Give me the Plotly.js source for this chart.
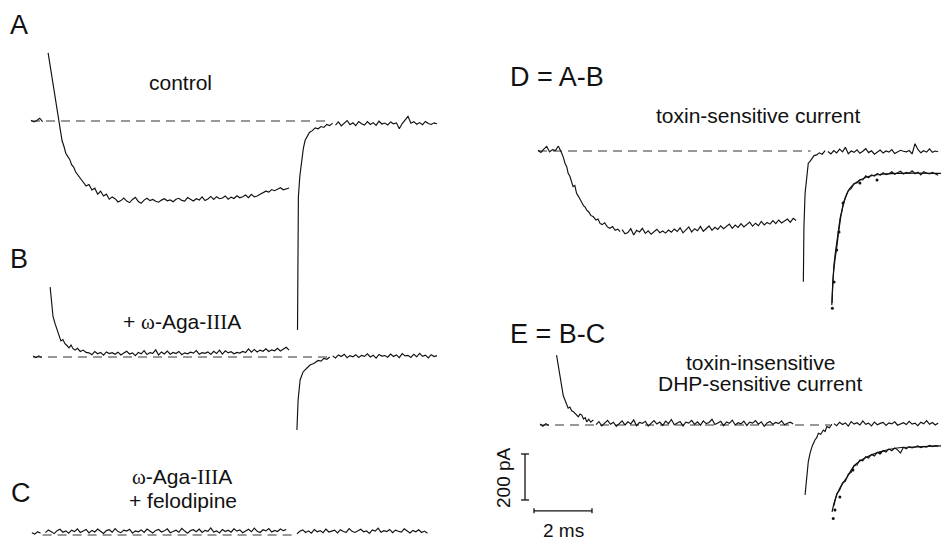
<!DOCTYPE html>
<html>
<head>
<meta charset="utf-8">
<script src="https://cdn.plot.ly/plotly-3.0.1.min.js"></script>
<style>html,body{margin:0;padding:0;background:#fff;}#chart{width:941px;height:540px;}</style>
</head>
<body>
<div id="chart"></div>
<script>
// ---------------- DATA (time in ms, current in pA) ----------------
// Panel A: control
const aPreY  = [3, -4, 2, 12, -3];                       // x0 0, dx 0.1
const aOnT   = [0.59,0.66,0.73,0.80,0.87,0.94,1.0,1.07,1.14,1.2,1.27,1.34,1.4,1.47,1.54,1.6,1.7,1.8,1.9,2.0,2.1,2.2,2.3,2.4,2.5,2.6,2.7,2.8,2.9];
const aOnY   = [296,240,185,130,75,25,-25,-85,-112,-140,-155,-168,-190,-200,-222,-232,-250,-262,-283,-276,-300,-292,-318,-305,-326,-318,-340,-330,-338];
const aPlatY = [-338,-352,-346,-335,-348,-355,-341,-332,-350,-358,-344,-336,-346,-341,-349,-353,-344,-338,-347,-343,-351,-340,-336,-345,-348,-333,-340,-348,-338,-344,-330,-346,-339,-328,-341,-329,-338,-335,-326,-340,-331,-337,-325,-334,-329,-322,-333,-319,-330,-326,-318,-312,-305,-309,-298,-303,-296,-290,-299,-294,-291]; // x0 2.9
const aTailT = [9.19,9.2,9.22,9.27,9.33,9.39,9.45,9.52,9.6,9.7,9.8,9.9,10.0,10.1,10.2,10.3,10.4];
const aTailY = [-909,-600,-330,-240,-170,-120,-85,-65,-50,-42,-30,-34,-24,-28,-15,-20,-9];
const aPostY = [-18,-4,-21,-10,2,-16,-8,-20,-2,-12,-18,-3,-15,-7,-19,-1,-13,-9,-17,-4,-12,-8,-34,-11,4,20,-10,-3,-14,-7,-16,-2,-11,-15,-8,-12]; // x0 10.5
const aBase  = [0, 10.3];

// Panel B: + ω-Aga-IIIA
const bPreY  = [4, -3, 5, -2];                            // x0 0.07
const bOnT   = [0.66,0.7,0.76,0.83,0.9,0.97,1.03,1.1,1.17,1.24,1.31,1.38,1.45,1.52,1.6,1.7,1.8,1.9,2.0];
const bOnY   = [304,250,175,145,115,85,70,76,58,50,40,52,36,30,38,24,30,20,18];
const bPlatY = [18,10,24,14,20,8,22,15,19,12,21,9,17,25,13,18,6,20,14,28,11,19,16,31,9,22,13,26,12,20,15,24,10,18,14,21,17,28,12,19,16,22,11,25,15,30,13,27,18,23,14,20,17,24,19,35,21,33,22,30,25,36,24,31,27,38,26,34,42,30]; // x0 2.0
const bTailT = [9.17,9.18,9.21,9.28,9.38,9.5,9.62,9.75,9.9,10.0,10.1,10.2,10.3];
const bTailY = [-317,-250,-187,-100,-65,-50,-35,-28,-15,-18,-6,-10,0];
const bPostY = [5,-4,9,2,12,-3,6,1,10,-2,7,3,14,0,8,-5,11,4,6,-1,13,2,9,-3,15,5,7,-2,12,1,16,3,8,-4,10,2,6]; // x0 10.4
const bBase  = [0.07, 10.3];

// Panel C: ω-Aga-IIIA + felodipine
const cPreY  = [10, 4, 14, 8];                            // x0 0.03
const cMainY = [10,22,14,6,19,25,12,18,8,21,15,27,11,17,24,9,20,13,26,16,7,19,23,12,28,15,10,21,17,25,8,18,14,22,11,26,16,9,20,24,13,18,27,10,15,21,12,29,17,8,19,23,14,26,11,20,16,31,13,18,9,24,15,21,12,27,17,22,10,19,25,14,30,16,11,23,18,28,13,20,15,26,19,24]; // x0 0.5
const cPostY = [5,16,22,11,18,8,24,14,19,10,26,13,17,21,9,23,15,12,28,16,11,20,25,14,18,7,22,17,30,12,19,15,24,10,21,16,13,27,18,9,20,14,23,11,17,8]; // x0 9.17
const cBase  = [0.4, 9.0];

// Panel D = A-B
const dPreY  = [3, -6, 8, 20, -4, 6, 2, 22];              // x0 0
const dOnT   = [0.70,0.76,0.82,0.88,0.93,0.99,1.04,1.1,1.16,1.21,1.27,1.33,1.39,1.45,1.51,1.57,1.63,1.68,1.75,1.82,1.91,2.0,2.07,2.14,2.21,2.3,2.39,2.48,2.57,2.66,2.75,2.83];
const dOnY   = [22,8,-10,-30,-53,-68,-97,-110,-140,-155,-150,-184,-196,-210,-227,-238,-245,-257,-265,-280,-286,-300,-296,-315,-320,-312,-330,-336,-328,-345,-340,-351];
const dPlatY = [-342,-360,-355,-338,-365,-345,-352,-336,-358,-347,-362,-352,-340,-355,-348,-357,-344,-353,-339,-350,-334,-356,-343,-330,-352,-338,-347,-328,-349,-336,-326,-345,-332,-341,-325,-338,-329,-318,-336,-322,-332,-316,-330,-320,-309,-327,-314,-325,-306,-321,-311,-318,-303,-316,-300,-313,-305,-296,-310,-293,-302]; // x0 2.9
const dTailT = [9.15,9.16,9.17,9.21,9.27,9.32,9.38,9.44,9.52,9.61,9.7,9.8,9.9];
const dTailY = [-568,-450,-329,-184,-97,-53,-45,-32,-20,-17,-8,-14,2];
const dPostY = [-2,-13,2,-8,8,-4,16,-12,0,-6,5,-10,-1,10,-7,1,-14,-3,4,-9,0,-5,6,-11,-2,3,-1,-4,2,-13,32,7,-8,1,-5,9,-6,0,-3]; // x0 10.0
const dBase  = [0, 9.4];
const dFitT  = [10.14,10.17,10.24,10.31,10.38,10.48,10.59,10.76,11.0,11.34,11.79,12.38,13.0,13.9];
const dFitY  = [-661,-561,-474,-410,-340,-257,-204,-161,-135,-113,-102,-97,-96,-97];
const dDataT = [10.13,10.16,10.2,10.25,10.3,10.36,10.42,10.48,10.54,10.6];
const dDataY = [-670,-575,-500,-445,-400,-330,-290,-262,-225,-205];
const dData2Y= [-205,-172,-164,-140,-139,-124,-126,-108,-116,-104,-109,-98,-106,-94,-103,-99,-90,-101,-95,-88,-100,-93,-97,-86,-99,-92,-104,-90,-96,-100,-93,-98,-105]; // x0 10.6
const dDotsT = [10.15,10.21,10.3,10.38,10.52,11.1,11.69];
const dDotsY = [-684,-570,-430,-352,-226,-139,-126];

// Panel E = B-C
const ePreY  = [4, -5, 6, -2];                            // x0 0.07
const eOnT   = [0.64,0.67,0.7,0.73,0.76,0.82,0.87,0.93,0.99,1.04,1.1,1.16,1.22,1.28,1.34,1.39,1.45,1.51,1.57,1.63,1.68,1.75,1.82,1.91];
const eOnY   = [304,280,253,225,196,152,128,109,88,73,78,62,58,50,44,36,48,43,26,32,14,25,12,22];
const ePlatY = [2,15,-4,10,20,3,12,-6,8,18,0,14,5,22,-3,11,7,16,-5,9,19,4,13,-2,17,6,24,1,10,15,-4,12,8,20,3,14,-1,18,6,11,25,2,9,16,-3,13,7,21,0,10,5,17,-2,12,8,19,4,14,-6,9,15,3,11,6,18,1,8,12,4]; // x0 2.0
const eTailT = [9.21,9.24,9.27,9.32,9.38,9.46,9.55,9.61,9.67,9.75,9.84,9.9,9.96,10.05,10.13];
const eTailY = [-304,-255,-210,-160,-123,-90,-65,-55,-36,-40,-22,-28,-7,-12,4];
const ePostY = [6,-3,12,2,9,-5,15,4,10,0,18,3,8,-4,13,1,7,11,-2,9,5,14,-1,6,10,2,16,4,8,-3,12,5,19,3,11,0,9]; // x0 10.2
const eBase  = [0.07, 10.07];
const eFitT  = [10.14,10.24,10.41,10.66,10.93,11.34,11.79,12.38,12.93,13.9];
const eFitY  = [-378,-326,-274,-226,-174,-139,-117,-100,-96,-91];
const eDataY = [-352,-300,-284,-252,-244,-214,-206,-176,-174,-152,-156,-138,-144,-128,-135,-118,-124,-112,-118,-104,-112,-100,-108,-122,-97,-104,-94,-100,-96,-91,-98,-93,-96,-89,-94,-90,-92]; // x0 10.2
const eDotsT = [10.18,10.24,10.41,10.86,11.79];
const eDotsY = [-406,-370,-313,-196,-122];

// Scale bars
const SCALE_MS = 2, SCALE_PA = 200;
const scaleLabels = ['200 pA', '2 ms'];

// ---------------- LAYOUT / GEOMETRY ----------------
const W = 941, H = 540, PX_MS = 29, PX_PA = 0.23;
const INK = '#111111';
const FONT = 'Liberation Sans, Arial, Helvetica, sans-serif';
const SERIF = 'Liberation Serif';

function seg(xa, ya, opts) {
  return Object.assign({type:'scatter', mode:'lines', xaxis:xa, yaxis:ya, hoverinfo:'skip', showlegend:false,
    line:{color:INK, width:1.15}}, opts);
}
function ex(x, y, xa, ya, extra) { return seg(xa, ya, Object.assign({x:x, y:y}, extra||{})); }
function dx(y, x0, xa, ya, extra) { return seg(xa, ya, Object.assign({y:y, x0:x0, dx:0.1}, extra||{})); }
function base(r, xa, ya) { return seg(xa, ya, {x:r, y:[0,0], line:{color:'#333', width:1, dash:'9px,6px'}}); }

const traces = [];
// A
traces.push(base(aBase,'x','y'));
traces.push(dx(aPreY, 0, 'x','y'));
traces.push(ex(aOnT, aOnY, 'x','y'));
traces.push(dx(aPlatY, 2.9, 'x','y'));
traces.push(ex(aTailT, aTailY, 'x','y'));
traces.push(dx(aPostY, 10.5, 'x','y'));
// B
traces.push(base(bBase,'x','y2'));
traces.push(dx(bPreY, 0.07, 'x','y2'));
traces.push(ex(bOnT, bOnY, 'x','y2'));
traces.push(dx(bPlatY, 2.0, 'x','y2'));
traces.push(ex(bTailT, bTailY, 'x','y2'));
traces.push(dx(bPostY, 10.4, 'x','y2'));
// C
traces.push(base(cBase,'x','y3'));
traces.push(dx(cPreY, 0.03, 'x','y3'));
traces.push(dx(cMainY, 0.5, 'x','y3'));
traces.push(dx(cPostY, 9.17, 'x','y3'));
// D
traces.push(base(dBase,'x2','y4'));
traces.push(dx(dPreY, 0, 'x2','y4'));
traces.push(ex(dOnT, dOnY, 'x2','y4'));
traces.push(dx(dPlatY, 2.9, 'x2','y4'));
traces.push(ex(dTailT, dTailY, 'x2','y4'));
traces.push(dx(dPostY, 10.0, 'x2','y4'));
traces.push(ex(dFitT, dFitY, 'x2','y4', {line:{color:INK, width:1.2, shape:'spline'}}));
traces.push(ex(dDataT, dDataY, 'x2','y4'));
traces.push(dx(dData2Y, 10.6, 'x2','y4'));
traces.push(ex(dDotsT, dDotsY, 'x2','y4', {mode:'markers', marker:{color:INK, size:3}}));
// E
traces.push(base(eBase,'x2','y5'));
traces.push(dx(ePreY, 0.07, 'x2','y5'));
traces.push(ex(eOnT, eOnY, 'x2','y5'));
traces.push(dx(ePlatY, 2.0, 'x2','y5'));
traces.push(ex(eTailT, eTailY, 'x2','y5'));
traces.push(dx(ePostY, 10.2, 'x2','y5'));
traces.push(ex(eFitT, eFitY, 'x2','y5', {line:{color:INK, width:1.2, shape:'spline'}}));
traces.push(dx(eDataY, 10.2, 'x2','y5'));
traces.push(ex(eDotsT, eDotsY, 'x2','y5', {mode:'markers', marker:{color:INK, size:3}}));

// scale bars (in panel E coordinates)
const sbT0 = -0.138, sbI = -373;           // horizontal bar origin
const svT = -0.448, svI0 = -126;           // vertical bar top
const capI = 11, capT = 0.138;
const sbLine = {color:INK, width:1.3};
traces.push(seg('x2','y5',{x:[sbT0, sbT0+SCALE_MS], y:[sbI, sbI], line:sbLine}));
traces.push(seg('x2','y5',{x:[sbT0, sbT0], y:[sbI-capI, sbI+capI], line:sbLine}));
traces.push(seg('x2','y5',{x:[sbT0+SCALE_MS, sbT0+SCALE_MS], y:[sbI-capI, sbI+capI], line:sbLine}));
traces.push(seg('x2','y5',{x:[svT, svT], y:[svI0, svI0-SCALE_PA], line:sbLine}));
traces.push(seg('x2','y5',{x:[svT-capT, svT+capT], y:[svI0, svI0], line:sbLine}));
traces.push(seg('x2','y5',{x:[svT-capT, svT+capT], y:[svI0-SCALE_PA, svI0-SCALE_PA], line:sbLine}));

function xAxis(domPx, originPx) {
  return {domain:[domPx[0]/W, domPx[1]/W], range:[(domPx[0]-originPx)/PX_MS, (domPx[1]-originPx)/PX_MS],
    visible:false, fixedrange:true};
}
function yAxis(basePx, anchor) {
  return {domain:[0,1], range:[-(H-basePx)/PX_PA, basePx/PX_PA], visible:false, fixedrange:true, anchor:anchor};
}

function ann(text, px, py, size, extra) {
  return Object.assign({text:text, x:px/W, y:1-py/H, xref:'paper', yref:'paper', showarrow:false,
    xanchor:'center', yanchor:'middle', font:{family:FONT, size:size, color:INK}}, extra||{});
}
const w = '<span style="font-family:' + SERIF + '">ω</span>';
const III = '<span style="font-family:' + SERIF + '">III</span>';

const layout = {
  width:W, height:H, margin:{l:0,r:0,t:0,b:0}, paper_bgcolor:'#fff', plot_bgcolor:'rgba(0,0,0,0)',
  showlegend:false,
  xaxis:xAxis([0,470], 31),
  xaxis2:xAxis([470,941], 538),
  yaxis:yAxis(121,'x'),
  yaxis2:yAxis(357,'x'),
  yaxis3:yAxis(535,'x'),
  yaxis4:yAxis(151,'x2'),
  yaxis5:yAxis(425,'x2'),
  annotations:[
    ann('A', 19, 25, 27),
    ann('control', 180, 82, 21),
    ann('B', 19, 259, 27),
    ann('+ ' + w + '-Aga-' + III + 'A', 182, 322, 21),
    ann('C', 21, 493, 27),
    ann(w + '-Aga-' + III + 'A', 182, 477, 21),
    ann('+ felodipine', 183, 500, 21),
    ann('D = A-B', 557, 77, 27),
    ann('toxin-sensitive current', 758, 115, 21),
    ann('E = B-C', 557, 334, 27),
    ann('toxin-insensitive', 760, 362, 21),
    ann('DHP-sensitive current', 760, 383, 21),
    ann(scaleLabels[0], 503, 478, 19, {textangle:-90}),
    ann(scaleLabels[1], 563, 530, 19)
  ]
};

Plotly.newPlot('chart', traces, layout, {staticPlot:true, displayModeBar:false});
</script>
</body>
</html>
